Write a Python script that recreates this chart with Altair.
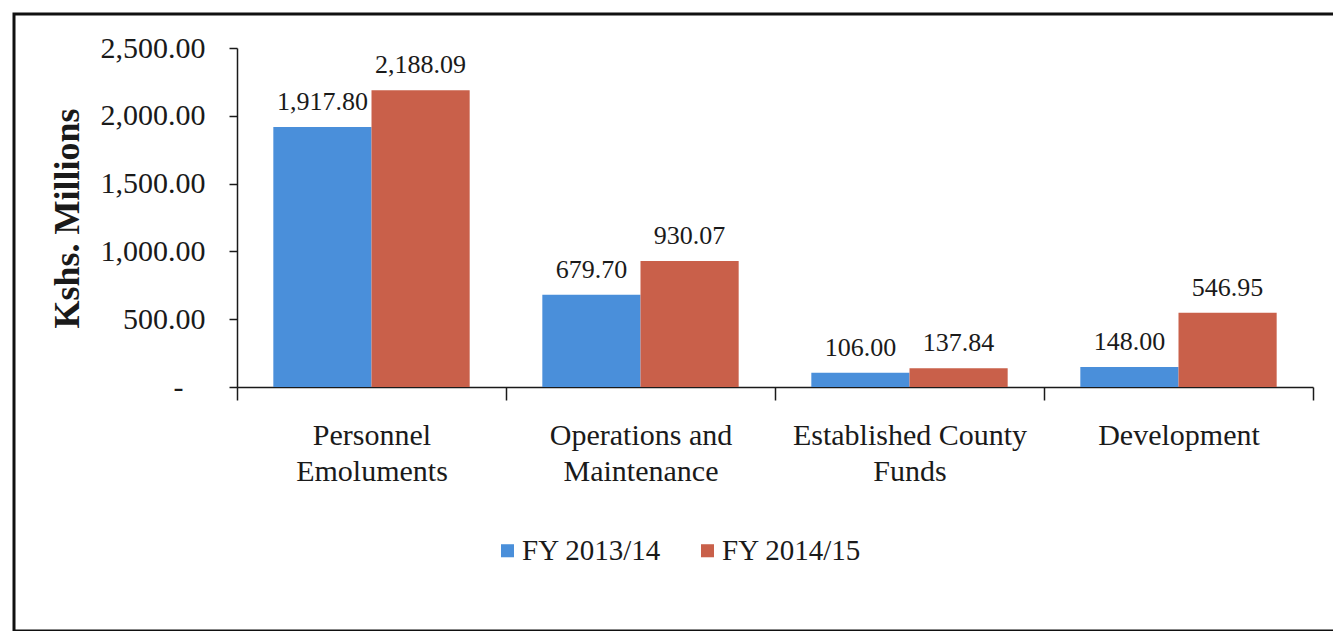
import altair as alt
import pandas as pd

categories = ["Personnel\nEmoluments", "Operations and\nMaintenance",
              "Established County\nFunds", "Development"]
series = ["FY 2013/14", "FY 2014/15"]
fy2013 = [1917.80, 679.70, 106.00, 148.00]
fy2014 = [2188.09, 930.07, 137.84, 546.95]
y_ticks = [0, 500, 1000, 1500, 2000, 2500]
colors = ["#4A8FDA", "#C9604A"]

rows = []
for c, a, b in zip(categories, fy2013, fy2014):
    rows.append({"category": c, "series": series[0], "value": a})
    rows.append({"category": c, "series": series[1], "value": b})
df = pd.DataFrame(rows)

font = "Liberation Serif"
ink = "#1a1a1a"

x_enc = alt.X(
    "category:N", sort=categories,
    scale=alt.Scale(paddingInner=0, paddingOuter=0),
    axis=alt.Axis(
        title=None, labelAngle=0, labelExpr="split(datum.label, '\\n')",
        tickBand="extent", tickSize=13, labelPadding=20, labelLineHeight=36,
        labelFontSize=30, labelFont=font, labelColor=ink, labelBaseline="top",
        labelLimit=0, domainColor=ink, tickColor=ink, domainWidth=1.5, tickWidth=1.5,
    ),
)
y_enc = alt.Y(
    "value:Q",
    scale=alt.Scale(domain=[0, 2500], nice=False),
    axis=alt.Axis(
        values=y_ticks, grid=False, tickSize=8,
        labelPadding={"condition": {"test": "datum.value == 0", "value": 46}, "value": 24},
        labelExpr="datum.value == 0 ? '-' : format(datum.value, ',.2f')",
        labelFont=font, labelFontSize=30, labelColor=ink,
        domainColor=ink, tickColor=ink, domainWidth=1.5, tickWidth=1.5,
        title="Kshs. Millions", titleFont=font, titleFontSize=36,
        titleFontWeight="bold", titleColor=ink, titleAngle=270,
        titleX=-159, titleY=170, titleAlign="center", titleBaseline="alphabetic",
    ),
)

base = alt.Chart(df)

bars = base.mark_bar().encode(
    x=x_enc,
    xOffset=alt.XOffset("series:N", sort=series,
                        scale=alt.Scale(paddingInner=0, paddingOuter=0.37)),
    y=y_enc,
    color=alt.Color(
        "series:N", sort=series,
        scale=alt.Scale(domain=series, range=colors),
        legend=alt.Legend(
            orient="none", legendX=256, legendY=488, direction="horizontal",
            title=None, labelFont=font, labelFontSize=29, labelColor=ink,
            symbolType="square", symbolSize=170, symbolStrokeWidth=0,
            labelOffset=0, columnPadding=31, padding=0,
        ),
    ),
)

labels = base.mark_text(
    baseline="alphabetic", dy=-17, fontSize=26, font=font, color=ink
).encode(
    x=alt.X("category:N", sort=categories),
    xOffset=alt.XOffset("series:N", sort=series),
    y=alt.Y("value:Q"),
    text=alt.Text("value:Q", format=",.2f"),
)

border = alt.Chart(pd.DataFrame({"a": [0]})).mark_rect(
    fillOpacity=0, stroke="#111", strokeWidth=3
).encode(
    x=alt.value(-223), x2=alt.value(1120), y=alt.value(-34), y2=alt.value(583)
)

chart = alt.layer(border, bars, labels).properties(
    width=1076, height=339,
    autosize=alt.AutoSizeParams(type="none"),
    padding={"left": 229, "top": 40, "right": 20, "bottom": 244},
    background="white",
).configure(font=font).configure_view(strokeWidth=0, stroke="transparent")

chart.save("out.html", embed_options={"renderer": "svg", "actions": False})
